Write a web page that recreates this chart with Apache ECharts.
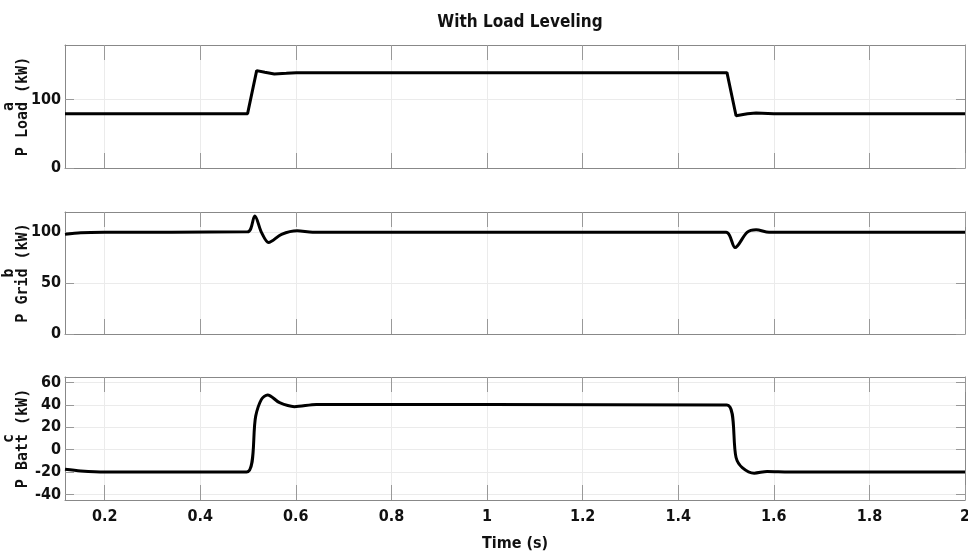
<!DOCTYPE html>
<html>
<head>
<meta charset="utf-8">
<script src="https://cdn.jsdelivr.net/npm/echarts@6/dist/echarts.min.js"></script>
<style>
  html, body { margin: 0; padding: 0; background: #fff; }
  #chart { width: 968px; height: 559px; }
</style>
</head>
<body>
<div id="chart"></div>
<script>
// values
var xTicks = [0.2, 0.4, 0.6, 0.8, 1, 1.2, 1.4, 1.6, 1.8, 2];

var tLoad = [0.117, 0.499, 0.518, 0.535, 0.555, 0.58, 0.601, 1.502, 1.521, 1.545, 1.563, 1.6, 2.0];
var pLoad = [79.5, 79.5, 142.5, 140, 137.5, 138.5, 139.5, 139.5, 76.5, 79.5, 80.5, 79.5, 79.5];

var tGrid = [0.117, 0.15, 0.2, 0.499, 0.514, 0.528, 0.543, 0.57, 0.603, 0.635, 1.5, 1.519, 1.544, 1.563, 1.59, 2.0];
var pGrid = [98, 99.5, 100, 100.5, 116, 100, 90, 98, 101.5, 100, 100, 85, 100, 102.5, 100, 100];

var tBatt = [0.117, 0.15, 0.2, 0.497, 0.516, 0.528, 0.541, 0.566, 0.597, 0.643, 1.502, 1.521, 1.534, 1.559, 1.586, 1.632, 2.0];
var pBatt = [-17.5, -19, -20, -20, 30, 45, 49, 42, 38.5, 40.5, 40, -7, -16, -21, -19.5, -20, -20];

var loadTicks = [0, 100];
var gridTicks = [0, 50, 100];
var battTicks = [-40, -20, 0, 20, 40, 60];

var fnt = "'Liberation Sans Narrow', 'DejaVu Sans Condensed', sans-serif";
var mono = "'DejaVu Sans Mono', 'Liberation Mono', monospace";

function zip(t, v) {
    return t.map(function (x, i) { return [x, v[i]]; });
}

var chart = echarts.init(document.getElementById('chart'));

var grids = [
    { left: 65, right: 3, top: 45, height: 123, outerBoundsMode: 'none', containLabel: false },
    { left: 65, right: 3, top: 212, height: 122, outerBoundsMode: 'none', containLabel: false },
    { left: 65, right: 3, top: 377, height: 123, outerBoundsMode: 'none', containLabel: false }
];

function xAx(i, pos, labels) {
    return {
        type: 'value', gridIndex: i, position: pos,
        min: 0.117, max: 2,
        axisLine: { show: true, onZero: false, lineStyle: { color: '#888', width: 1 } },
        axisTick: { show: true, inside: true, length: 15, customValues: xTicks, lineStyle: { color: '#999' } },
        axisLabel: {
            show: labels, customValues: xTicks, margin: 9,
            color: '#111', fontFamily: fnt, fontWeight: 'bold', fontSize: 16
        },
        splitLine: { show: pos === 'bottom', lineStyle: { color: '#ebebeb', width: 1 } },
        name: (labels ? 'Time (s)' : ''),
        nameLocation: 'middle', nameGap: 36, nameMoveOverlap: false,
        nameTextStyle: { color: '#111', fontFamily: fnt, fontWeight: 'bold', fontSize: 16 }
    };
}

function yAx(i, pos, min, max, ticks, name) {
    return {
        type: 'value', gridIndex: i, position: pos,
        min: min, max: max,
        axisLine: { show: true, onZero: false, lineStyle: { color: '#888', width: 1 } },
        axisTick: { show: true, inside: true, length: 9, customValues: ticks, lineStyle: { color: '#999' } },
        axisLabel: {
            show: pos === 'left', customValues: ticks, margin: 4,
            color: '#111', fontFamily: fnt, fontWeight: 'bold', fontSize: 16
        },
        splitLine: { show: pos === 'left', lineStyle: { color: '#ebebeb', width: 1 } },
        name: (pos === 'left' ? name : ''),
        nameLocation: 'middle', nameRotate: 90, nameGap: 35, nameMoveOverlap: false,
        nameTextStyle: {
            color: '#111', fontFamily: mono, fontWeight: 'bold', fontSize: 15,
            lineHeight: 14, align: 'center'
        }
    };
}

var option = {
    animation: false,
    backgroundColor: '#fff',
    title: {
        text: 'With Load Leveling',
        left: 515, top: 9, textAlign: 'center',
        textStyle: { color: '#111', fontFamily: fnt, fontWeight: 'bold', fontSize: 17 }
    },
    grid: grids,
    xAxis: [
        xAx(0, 'bottom', false), xAx(1, 'bottom', false), xAx(2, 'bottom', true),
        xAx(0, 'top', false), xAx(1, 'top', false), xAx(2, 'top', false)
    ],
    yAxis: [
        yAx(0, 'left', 0, 180, loadTicks, 'a\nP Load (kW)'),
        yAx(1, 'left', 0, 120, gridTicks, 'b\nP Grid (kW)'),
        yAx(2, 'left', -45, 65, battTicks, 'c\nP Batt (kW)'),
        yAx(0, 'right', 0, 180, loadTicks, ''),
        yAx(1, 'right', 0, 120, gridTicks, ''),
        yAx(2, 'right', -45, 65, battTicks, '')
    ],
    series: [
        { name: 'P Load', type: 'line', xAxisIndex: 0, yAxisIndex: 0, data: zip(tLoad, pLoad) },
        { name: 'P Grid', type: 'line', xAxisIndex: 1, yAxisIndex: 1, data: zip(tGrid, pGrid), smooth: 0.3 },
        { name: 'P Batt', type: 'line', xAxisIndex: 2, yAxisIndex: 2, data: zip(tBatt, pBatt), smooth: 0.3 }
    ].map(function (s) {
        s.symbol = 'none';
        s.lineStyle = { color: '#000', width: 3 };
        return s;
    })
};

chart.setOption(option);
</script>
</body>
</html>
